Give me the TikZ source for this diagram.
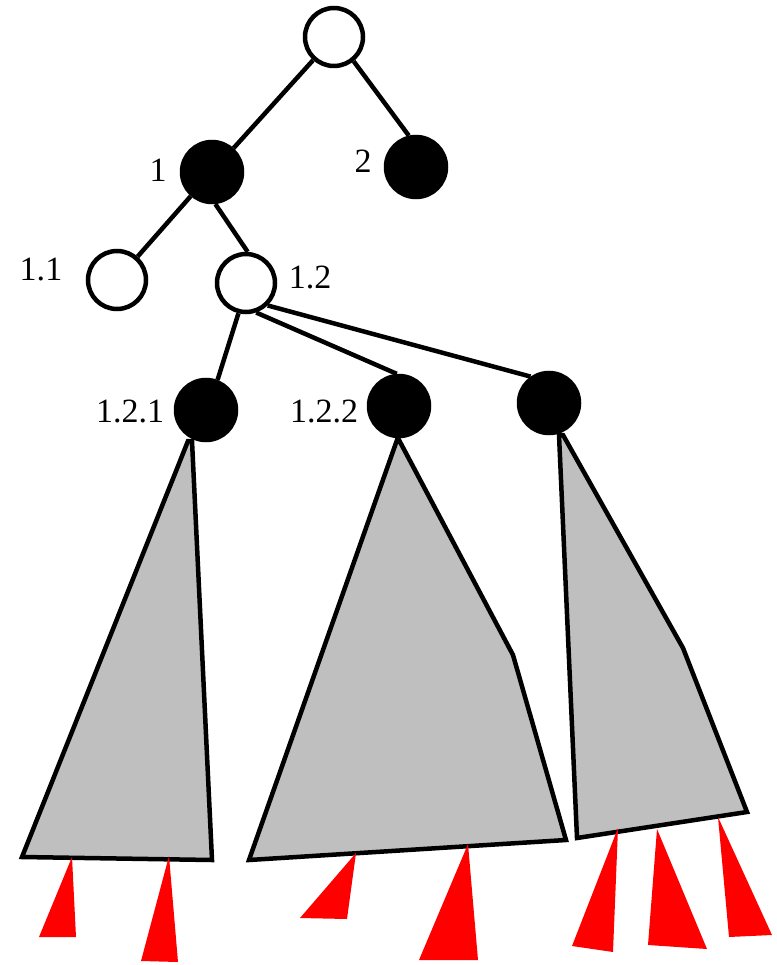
\documentclass[tikz,border=0pt]{standalone}
\usepackage{fontspec}
\setmainfont{Liberation Serif}
\definecolor{tgray}{RGB}{191,191,191}
\tikzset{
  whitenode/.style={circle, draw=black, fill=white, line width=4.5pt, minimum size=58pt, inner sep=0pt},
  blacknode/.style={circle, draw=black, fill=black, line width=4.5pt, minimum size=60pt, inner sep=0pt},
  lbl/.style={anchor=base, inner sep=0pt, font=\fontsize{34}{34}\selectfont},
  edge/.style={line width=4.5pt},
  subtree/.style={fill=tgray, draw=black, line width=4.5pt, line join=miter},
  redtri/.style={fill=red, draw=none}
}
\begin{document}
\begin{tikzpicture}[x=1pt,y=-1pt]
\useasboundingbox (0,0) rectangle (776,965);
% subtrees
\draw[subtree] (188,441) -- (22,857) -- (212,860) -- (192,441) -- cycle;
\draw[subtree] (397,440) -- (249,860) -- (566,840) -- (513,655) -- (399,440) -- cycle;
\draw[subtree] (559,435) -- (577,838) -- (747,812) -- (683,648) -- (563,435) -- cycle;
% red triangles
\fill[redtri] (72,857) -- (39,937) -- (76,937) -- cycle;
\fill[redtri] (169,856) -- (141,961) -- (178,962) -- cycle;
\fill[redtri] (356,853) -- (300,918) -- (347,919) -- cycle;
\fill[redtri] (468,844) -- (419,960) -- (478,960) -- cycle;
\fill[redtri] (618,828) -- (572,946) -- (613,952) -- cycle;
\fill[redtri] (657,829) -- (648,945) -- (707,949) -- cycle;
\fill[redtri] (718,817) -- (729,937) -- (772,935) -- cycle;
% nodes
\node[whitenode] (r) at (334,37) {};
\node[blacknode] (n1) at (212,172) {};
\node[blacknode] (n2) at (416,167) {};
\node[whitenode] (n11) at (117,280) {};
\node[whitenode] (n12) at (246,283) {};
\node[blacknode] (n121) at (206,410) {};
\node[blacknode] (n122) at (399,406) {};
\node[blacknode] (n123) at (549,403) {};
% edges
\draw[edge] (r) -- (n1);
\draw[edge] (r.-51) -- (n2.103);
\draw[edge] (n1) -- (n11);
\draw[edge] (n1.-84) -- (n12.87);
\draw[edge] (n12.-104) -- (n121.69);
\draw[edge] (n12.-71) -- (n122.94);
\draw[edge] (n12.-46) -- (n123.125);
% labels
\node[lbl] (l1) at (158,182) {1};
\node[lbl] (l2) at (363,173) {2};
\node[lbl] (l11) at (41,280) {1.1};
\node[lbl] (l12) at (310,288) {1.2};
\node[lbl] (l121) at (130,422) {1.2.1};
\node[lbl] (l122) at (324,422) {1.2.2};
\end{tikzpicture}
\end{document}
